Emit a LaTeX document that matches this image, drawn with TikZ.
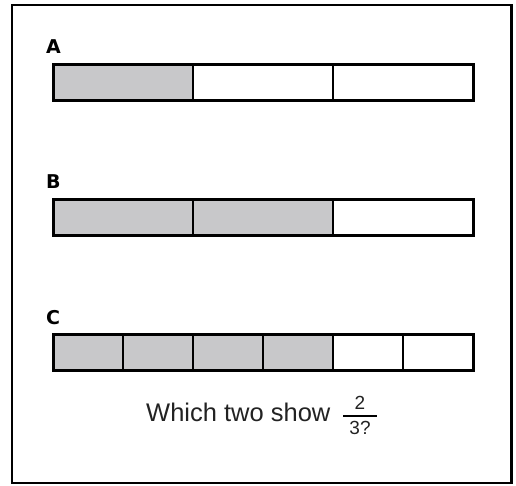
\documentclass[tikz,border=0pt]{standalone}
\usepackage{fontspec}
\setmainfont{Liberation Sans}
\newfontfamily\lblfont{DejaVu Sans}
\definecolor{shade}{HTML}{C8C8CA}
\definecolor{txt}{HTML}{222222}
\begin{document}
\begin{tikzpicture}[x=1pt,y=-1pt,
  frame/.style={draw=black,line width=2.2pt},
  barout/.style={draw=black,line width=3pt},
  divider/.style={draw=black,line width=1.8pt},
  cellfill/.style={fill=shade},
  lbl/.style={inner sep=0pt,anchor=base west,font=\lblfont\bfseries\fontsize{19}{22}\selectfont},
  question/.style={inner sep=0pt,anchor=base west,text=txt,font=\fontsize{25.5}{30}\selectfont},
  fracnum/.style={inner sep=0pt,anchor=base,text=txt,font=\fontsize{19}{22}\selectfont}]
\useasboundingbox (0,0) rectangle (516,485);
\draw[frame] (12.3,5.3) rectangle (511.5,483);
% Bar A
\node[lbl] (la) at (46,53) {A};
\fill[cellfill] (53,64.5) rectangle (193,100.5);
\draw[divider] (193,64.5) -- (193,100.5);
\draw[divider] (333,64.5) -- (333,100.5);
\draw[barout] (53,64.5) rectangle (473,100.5);
% Bar B
\node[lbl] (lb) at (46,188) {B};
\fill[cellfill] (53,199.5) rectangle (333,235.5);
\draw[divider] (193,199.5) -- (193,235.5);
\draw[divider] (333,199.5) -- (333,235.5);
\draw[barout] (53,199.5) rectangle (473,235.5);
% Bar C
\node[lbl] (lc) at (46,324) {C};
\fill[cellfill] (53,334.5) rectangle (333,370.5);
\foreach \x in {123,193,263,333,403}
  \draw[divider] (\x,334.5) -- (\x,370.5);
\draw[barout] (53,334.5) rectangle (473,370.5);
% Question
\node[question] (q) at (146,421) {Which two show};
\node[fracnum] (num) at (360,409) {2};
\node[fracnum] (den) at (360,434) {3?};
\coordinate (fl) at (343,416);
\coordinate (fr) at (377,416);
\draw[line width=2.8pt] (fl) -- (fr);
\end{tikzpicture}
\end{document}
